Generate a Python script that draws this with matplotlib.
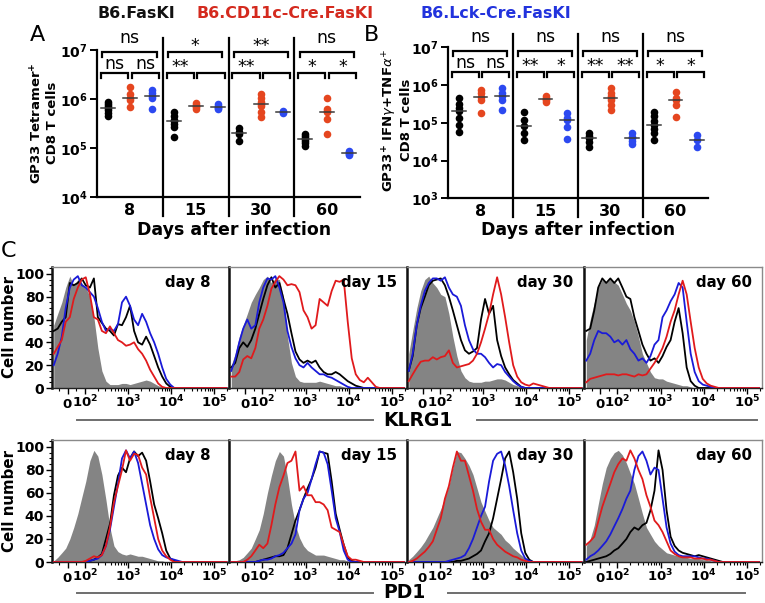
import numpy as np
import matplotlib
matplotlib.use('Agg')
import matplotlib.pyplot as plt
from matplotlib.lines import Line2D
import matplotlib.transforms as mtransforms
from matplotlib.ticker import FixedLocator, NullLocator, FixedFormatter

plt.rcParams['font.family'] = ['DejaVu Sans']
plt.rcParams['mathtext.fontset'] = 'dejavusans'

# ---------------- data: scatter panels (log10 of cell counts) ----------------
DAYS = ['8', '15', '30', '60']
A_BLACK_LOG = [[5.95, 5.90, 5.86, 5.83, 5.78, 5.72, 5.66],
               [5.75, 5.66, 5.58, 5.56, 5.50, 5.44, 5.24],
               [5.41, 5.33, 5.30, 5.14],
               [5.30, 5.25, 5.21, 5.19, 5.15, 5.10, 5.05]]
A_RED_LOG = [[6.26, 6.11, 6.03, 5.99, 5.85],
             [5.92, 5.88, 5.86, 5.84, 5.80],
             [6.10, 6.02, 5.95, 5.90, 5.86, 5.75, 5.63],
             [6.02, 5.80, 5.76, 5.74, 5.60, 5.29]]
A_BLUE_LOG = [[6.19, 6.12, 6.07, 6.02, 5.80],
              [5.90, 5.87, 5.85, 5.83, 5.80],
              [5.77, 5.75, 5.73],
              [4.95, 4.93, 4.91, 4.89, 4.87]]
B_BLACK_LOG = [[5.65, 5.50, 5.40, 5.31, 5.12, 4.94, 4.76],
               [5.29, 5.07, 4.92, 4.72, 4.54],
               [4.72, 4.66, 4.61, 4.50, 4.35],
               [5.29, 5.17, 5.05, 4.94, 4.85, 4.72, 4.55]]
B_RED_LOG = [[5.87, 5.78, 5.69, 5.60, 5.27],
             [5.72, 5.66, 5.63, 5.60, 5.55],
             [5.91, 5.80, 5.72, 5.66, 5.60, 5.48, 5.35],
             [5.82, 5.65, 5.60, 5.47, 5.16]]
B_BLUE_LOG = [[5.91, 5.78, 5.72, 5.60, 5.34],
              [5.25, 5.12, 5.07, 4.90, 4.58],
              [4.72, 4.63, 4.60, 4.52, 4.45],
              [4.67, 4.54, 4.36]]
A_SIG_TOP = ['ns', '*', '**', 'ns']
A_SIG_LEFT = ['ns', '**', '**', '*']
A_SIG_RIGHT = ['ns', '', '', '*']
B_SIG_TOP = ['ns', 'ns', 'ns', 'ns']
B_SIG_LEFT = ['ns', '**', '**', '*']
B_SIG_RIGHT = ['ns', '*', '**', '*']
LEGEND = ['B6.FasKI', 'B6.CD11c-Cre.FasKI', 'B6.Lck-Cre.FasKI']

# ---------------- data: histograms (fluorescence channel, % of max) ----------------
HX = [-82, -59, -35, -12, 12, 35, 59, 82, 105, 131, 162, 200, 248, 308, 381, 472,
      585, 725, 898, 1113, 1380, 1710, 2120, 2625, 3250, 4030, 4990, 6180, 7660, 9490,
      11750, 14560, 18030, 22340, 27670, 34280, 42470, 52600, 65200, 80700, 100000,
      124000, 153000, 190000]

KLRG1_GRAY = [
    [55, 65, 75, 88, 98, 90, 95, 92, 88, 80, 62, 35, 15, 6, 3, 3, 3, 4, 4, 3, 4, 5, 6, 7, 6, 4, 2, 1],
    [20, 30, 45, 55, 65, 75, 82, 88, 95, 98, 92, 96, 95, 80, 45, 22, 10, 6, 5, 5, 5, 5, 6, 5, 4, 3, 2, 2, 1],
    [30, 50, 70, 85, 95, 98, 92, 88, 82, 80, 65, 45, 28, 15, 9, 6, 5, 5, 5, 6, 6, 7, 8, 8, 7, 5, 3, 2, 1],
    [42, 60, 75, 88, 95, 92, 96, 93, 90, 82, 74, 68, 58, 45, 30, 22, 14, 9, 8, 8, 6, 5, 4, 3, 2, 2, 1]]
KLRG1_BLACK = [
    [50, 52, 58, 62, 92, 90, 92, 96, 90, 88, 96, 62, 57, 52, 50, 46, 56, 55, 62, 72, 50, 40, 38, 45, 38, 28, 18, 10, 4, 1],
    [18, 22, 35, 40, 36, 42, 52, 65, 78, 90, 97, 88, 92, 78, 65, 48, 32, 25, 22, 24, 22, 24, 18, 14, 12, 12, 14, 12, 9, 6, 4, 2, 1],
    [15, 28, 55, 70, 80, 90, 94, 95, 96, 90, 80, 68, 55, 42, 33, 30, 32, 35, 60, 78, 65, 72, 42, 28, 18, 12, 7, 4, 1],
    [50, 52, 68, 88, 96, 92, 96, 92, 96, 88, 80, 78, 62, 50, 38, 30, 24, 26, 22, 28, 36, 42, 58, 70, 48, 18, 6, 2]]
KLRG1_BLUE = [
    [20, 30, 45, 70, 88, 95, 98, 90, 88, 84, 80, 70, 58, 50, 52, 50, 56, 75, 80, 72, 60, 55, 65, 58, 48, 40, 30, 18, 8, 3],
    [15, 25, 40, 52, 60, 52, 55, 75, 88, 96, 95, 98, 88, 75, 50, 36, 26, 20, 18, 22, 18, 15, 12, 12, 10, 9, 7, 5, 3, 1],
    [15, 30, 55, 72, 85, 92, 96, 96, 94, 97, 88, 82, 80, 72, 55, 42, 34, 30, 30, 27, 22, 18, 21, 20, 14, 10, 6, 3, 1],
    [24, 30, 42, 50, 48, 48, 45, 40, 42, 38, 42, 34, 30, 24, 26, 22, 28, 38, 42, 62, 68, 76, 82, 92, 88, 58, 30, 14, 6, 3, 2, 1]]
KLRG1_RED = [
    [30, 36, 42, 58, 62, 78, 88, 95, 97, 82, 62, 60, 50, 48, 54, 48, 42, 40, 37, 38, 40, 34, 30, 24, 16, 10, 4, 1],
    [10, 10, 14, 25, 28, 26, 35, 52, 60, 72, 87, 93, 98, 95, 90, 91, 90, 84, 68, 62, 52, 55, 78, 75, 72, 85, 94, 93, 95, 58, 26, 12, 7, 5, 9, 5, 1],
    [6, 12, 18, 23, 24, 24, 27, 25, 27, 28, 33, 22, 18, 19, 20, 21, 24, 30, 40, 52, 65, 82, 97, 82, 62, 40, 20, 10, 5, 3, 2, 4, 3, 2, 1],
    [5, 8, 9, 10, 11, 12, 12, 12, 11, 12, 12, 11, 10, 12, 11, 12, 17, 22, 28, 35, 45, 58, 68, 82, 94, 82, 58, 35, 18, 8, 4, 2, 1]]

PD1_GRAY = [
    [1, 4, 8, 12, 20, 30, 42, 56, 70, 88, 97, 92, 76, 54, 30, 14, 9, 7, 6, 7, 6, 5, 5, 4, 3, 2, 1, 1],
    [0, 1, 2, 4, 8, 12, 20, 28, 42, 60, 75, 88, 96, 92, 74, 50, 32, 21, 14, 10, 8, 6, 6, 6, 5, 4, 3, 2, 2, 1, 1],
    [2, 5, 9, 13, 18, 24, 30, 38, 46, 56, 66, 82, 96, 95, 90, 84, 76, 64, 52, 44, 36, 30, 27, 24, 19, 16, 12, 9, 6, 3, 1],
    [14, 20, 32, 50, 68, 82, 90, 95, 97, 93, 86, 77, 68, 55, 42, 30, 24, 18, 14, 11, 8, 7, 6, 5, 5, 4, 3, 3, 3, 2, 2, 1, 1]]
PD1_BLACK = [
    [0, 0, 0, 0, 0, 0, 0, 0, 0, 1, 2, 4, 7, 20, 33, 58, 75, 82, 78, 90, 96, 92, 95, 88, 70, 50, 38, 25, 10, 3, 1],
    [0, 0, 0, 0, 0, 0, 0, 1, 2, 3, 4, 5, 5, 6, 12, 24, 36, 45, 55, 64, 72, 82, 96, 95, 94, 70, 42, 28, 15, 4, 1],
    [0, 0, 0, 0, 0, 0, 0, 0, 0, 0, 0, 0, 1, 1, 2, 3, 5, 7, 10, 18, 25, 38, 55, 72, 90, 96, 78, 55, 25, 8, 2],
    [0, 1, 2, 3, 4, 5, 7, 10, 12, 16, 20, 26, 30, 28, 32, 34, 45, 62, 97, 80, 45, 22, 14, 10, 8, 7, 6, 5, 6, 5, 4, 3, 2, 1]]
PD1_BLUE = [
    [0, 0, 0, 0, 0, 0, 0, 0, 0, 1, 2, 3, 6, 14, 28, 48, 68, 90, 97, 90, 96, 86, 68, 50, 32, 20, 11, 6, 4, 3, 2, 1],
    [0, 0, 0, 0, 0, 0, 0, 1, 2, 2, 3, 5, 6, 8, 12, 16, 24, 45, 55, 60, 72, 85, 96, 95, 85, 62, 38, 26, 10, 2],
    [0, 0, 0, 0, 0, 0, 0, 0, 0, 0, 1, 2, 3, 4, 6, 12, 20, 30, 40, 48, 70, 88, 94, 96, 84, 66, 45, 25, 10, 3, 1],
    [2, 5, 7, 10, 14, 18, 24, 31, 38, 46, 55, 62, 80, 92, 96, 88, 76, 82, 80, 55, 30, 16, 9, 6, 5, 5, 5, 5, 4, 3, 3, 2, 1]]
PD1_RED = [
    [0, 0, 0, 0, 0, 0, 0, 0, 1, 3, 5, 4, 6, 14, 30, 52, 66, 80, 97, 88, 94, 93, 82, 76, 56, 38, 20, 10, 5, 2],
    [0, 0, 0, 0, 2, 5, 10, 15, 12, 16, 32, 50, 65, 75, 86, 88, 96, 62, 66, 58, 58, 52, 52, 50, 45, 30, 28, 26, 15, 5, 2, 2, 1],
    [0, 1, 3, 6, 9, 13, 18, 28, 38, 55, 66, 82, 96, 88, 88, 75, 62, 46, 35, 28, 28, 20, 15, 12, 9, 7, 5, 4, 2, 1],
    [15, 18, 22, 35, 48, 58, 68, 78, 85, 90, 88, 97, 90, 80, 72, 58, 48, 36, 32, 26, 18, 10, 7, 5, 4, 4, 4, 3, 3, 3, 2, 2, 1]]

# ---------------- styling ----------------
W, H = 765, 603
C_RED_DOT = '#e5461f'
C_BLUE_DOT = '#2c49f0'
C_RED_LINE = '#e01a1c'
C_BLUE_LINE = '#1a1ad8'
C_GRAY = '#848484'
LEG_COLORS = ['#111111', '#d42a1e', '#2233dd']

fig = plt.figure(figsize=(W / 100, H / 100), dpi=100)


def rect(l, t, r, b):
    return [l / W, 1 - b / H, (r - l) / W, (b - t) / H]


def fy(py):
    return 1 - py / H


# ---------------- scatter panels ----------------
OFFS = [0.5, 1.5, 2.5]


def scatter_panel(box, series, ylim, ticks, labels, br_top, br_low, sig_top, sig_left, sig_right):
    ax = fig.add_axes(rect(*box))
    ax.set_yscale('log')
    ax.set_ylim(*ylim)
    ax.set_xlim(0, 12)
    for k, (vals, col) in enumerate(series):
        for g in range(4):
            xs = g * 3 + OFFS[k]
            y = 10 ** np.array(vals[g])
            ax.scatter(np.full(len(y), xs), y, s=30, color=col, zorder=3, linewidths=0, clip_on=False)
            med = 10 ** np.median(vals[g])
            ax.plot([xs - 0.32, xs + 0.32], [med, med], color='#3a3a3a', lw=1.1, zorder=4)
    trans = mtransforms.blended_transform_factory(ax.transData, ax.transAxes)
    for xsep in [3, 6, 9]:
        ax.plot([xsep, xsep], [-0.125, 1.085], transform=trans, color='k', lw=1.6, clip_on=False)
    for sp in ['top', 'right']:
        ax.spines[sp].set_visible(False)
    for sp in ['left', 'bottom']:
        ax.spines[sp].set_linewidth(1.6)
    ax.yaxis.set_major_locator(FixedLocator(ticks))
    ax.yaxis.set_major_formatter(FixedFormatter(labels))
    ax.yaxis.set_minor_locator(NullLocator())
    ax.tick_params(axis='y', which='major', length=5, width=1.4, labelsize=10, pad=2)
    ax.set_xticks([1.5, 4.5, 7.5, 10.5])
    ax.set_xticklabels(DAYS, fontsize=11.5, fontweight='bold')
    ax.tick_params(axis='x', length=0, pad=4)
    tick = 0.034
    for g in range(4):
        base = g * 3
        brs = [(base + 0.25, base + 2.72, br_top, sig_top[g], True),
               (base + 0.18, base + 1.42, br_low, sig_left[g], False),
               (base + 1.58, base + 2.82, br_low, sig_right[g], False)]
        for x0, x1, yb, lab, top in brs:
            ax.plot([x0, x0, x1, x1], [yb - tick, yb, yb, yb - tick], transform=trans,
                    color='k', lw=1.6, clip_on=False, solid_joinstyle='miter')
            if lab:
                off = (6.0 if top else 2.4) if lab == 'ns' else 0.3
                ax.annotate(lab, xy=((x0 + x1) / 2, yb), xycoords=trans, xytext=(0, off),
                            textcoords='offset points', ha='center', va='baseline', fontsize=12.5,
                            annotation_clip=False)
    return ax


axA = scatter_panel((97, 50.3, 360, 197.3),
                    [(A_BLACK_LOG, 'k'), (A_RED_LOG, C_RED_DOT), (A_BLUE_LOG, C_BLUE_DOT)],
                    (1e4, 1e7), [1e4, 1e5, 1e6, 1e7],
                    [r'$\mathbf{10^{4}}$', r'$\mathbf{10^{5}}$', r'$\mathbf{10^{6}}$', r'$\mathbf{10^{7}}$'],
                    0.990, 0.848, A_SIG_TOP, A_SIG_LEFT, A_SIG_RIGHT)
axB = scatter_panel((448, 47.3, 708, 198.4),
                    [(B_BLACK_LOG, 'k'), (B_RED_LOG, C_RED_DOT), (B_BLUE_LOG, C_BLUE_DOT)],
                    (1e3, 1e7), [1e3, 1e4, 1e5, 1e6, 1e7],
                    [r'$\mathbf{10^{3}}$', r'$\mathbf{10^{4}}$', r'$\mathbf{10^{5}}$', r'$\mathbf{10^{6}}$', r'$\mathbf{10^{7}}$'],
                    0.977, 0.839, B_SIG_TOP, B_SIG_LEFT, B_SIG_RIGHT)

fig.text(44 / W, fy(123), 'GP33 Tetramer$^{\\mathbf{+}}$\nCD8 T cells', rotation=90, ha='center', va='center',
         multialignment='center', fontsize=9.5, fontweight='bold', linespacing=1.15)
fig.text(397 / W, fy(120), 'GP33$^{\\mathbf{+}}$ IFN$\\gamma$+TNF$\\alpha^{+}$\nCD8 T cells', rotation=90,
         ha='center', va='center', multialignment='center', fontsize=9.5, fontweight='bold', linespacing=1.1)
fig.text(234 / W, fy(230), 'Days after infection', ha='center', va='center', fontsize=12.5, fontweight='bold')
fig.text(578 / W, fy(230), 'Days after infection', ha='center', va='center', fontsize=12.5, fontweight='bold')

# legend text
for txt, col, xl in zip(LEGEND, LEG_COLORS, [98, 197, 420]):
    fig.text(xl / W, fy(13), txt, color=col, ha='left', va='center', fontsize=11.4, fontweight='bold')

fig.text(37 / W, fy(35), 'A', ha='center', va='center', fontsize=16)
fig.text(372 / W, fy(35), 'B', ha='center', va='center', fontsize=16)
fig.text(9 / W, fy(251), 'C', ha='center', va='center', fontsize=16)

# ---------------- histogram panels ----------------
COL_LEFTS = [51.7, 229.2, 406.7, 584.2]
COL_W = 177.5
ROWS = [(267, 388, KLRG1_GRAY, KLRG1_BLACK, KLRG1_BLUE, KLRG1_RED),
        (440, 562, PD1_GRAY, PD1_BLACK, PD1_BLUE, PD1_RED)]
DAY_X = [0.895, 0.948, 0.94, 0.944]
MINOR_X = [-50, 50] + [m * 10 ** k for k in (2, 3, 4) for m in range(2, 10)] + [2e5]


def full(v):
    return list(v) + [0] * (len(HX) - len(v))


for top, bot, G, K, B, R in ROWS:
    for j in range(4):
        ax = fig.add_axes(rect(COL_LEFTS[j], top, COL_LEFTS[j] + COL_W, bot))
        ax.set_xscale('symlog', linthresh=100, linscale=0.356)
        ax.fill_between(HX, 0, full(G[j]), color=C_GRAY, lw=0, zorder=1)
        ax.plot(HX, full(K[j]), color='k', lw=1.3, zorder=3)
        ax.plot(HX, full(B[j]), color=C_BLUE_LINE, lw=1.3, zorder=4)
        ax.plot(HX, full(R[j]), color=C_RED_LINE, lw=1.3, zorder=5)
        ax.set_xlim(-94, 2.2e5)
        ax.set_ylim(0, 106)
        ax.xaxis.set_major_locator(FixedLocator([0, 100, 1e3, 1e4, 1e5]))
        ax.xaxis.set_major_formatter(FixedFormatter([r'$\mathbf{0}$', r'$\mathbf{10^{2}}$', r'$\mathbf{10^{3}}$',
                                                     r'$\mathbf{10^{4}}$', r'$\mathbf{10^{5}}$']))
        ax.xaxis.set_minor_locator(FixedLocator(MINOR_X))
        ax.tick_params(axis='x', which='major', length=4, width=1, labelsize=9.5, pad=10.2)
        ax.tick_params(axis='x', which='minor', length=2, width=0.8)
        for lab in ax.get_xticklabels():
            lab.set_verticalalignment('baseline')
        for sp in ['top', 'right']:
            ax.spines[sp].set_color('#8a8a8a')
            ax.spines[sp].set_linewidth(1.0)
        ax.spines['left'].set_color('#111111')
        ax.spines['left'].set_linewidth(1.8)
        ax.spines['bottom'].set_color('#222222')
        ax.spines['bottom'].set_linewidth(1.0)
        if j == 0:
            ax.yaxis.set_major_locator(FixedLocator([0, 20, 40, 60, 80, 100]))
            ax.yaxis.set_minor_locator(FixedLocator(list(range(5, 106, 5))))
            ax.tick_params(axis='y', which='major', length=4, width=1, labelsize=10, pad=1.5)
            ax.tick_params(axis='y', which='minor', length=2, width=0.8)
            for lab in ax.get_yticklabels():
                lab.set_fontweight('bold')
        else:
            ax.set_yticks([])
            ax.yaxis.set_minor_locator(NullLocator())
        ax.text(DAY_X[j], 0.875, 'day ' + DAYS[j], transform=ax.transAxes, ha='right', va='center',
                fontsize=10.8, fontweight='bold', zorder=6)
    fig.text(9.5 / W, fy((top + bot) / 2), 'Cell number', rotation=90, ha='center', va='center',
             fontsize=10.8, fontweight='bold')

# row labels with rules
for lab, ty, ly, r0, r1 in [('KLRG1', 420, 420, 477, 757), ('PD1', 592.5, 593, 448, 745)]:
    fig.text(383 / W, fy(ty), lab, ha='left', va='center', fontsize=13.5, fontweight='bold')
    fig.add_artist(Line2D([77 / W, 373 / W], [fy(ly), fy(ly)], color='#6e6e6e', lw=1.4))
    fig.add_artist(Line2D([r0 / W, r1 / W], [fy(ly), fy(ly)], color='#6e6e6e', lw=1.4))

fig.savefig('out.png', dpi=100)
